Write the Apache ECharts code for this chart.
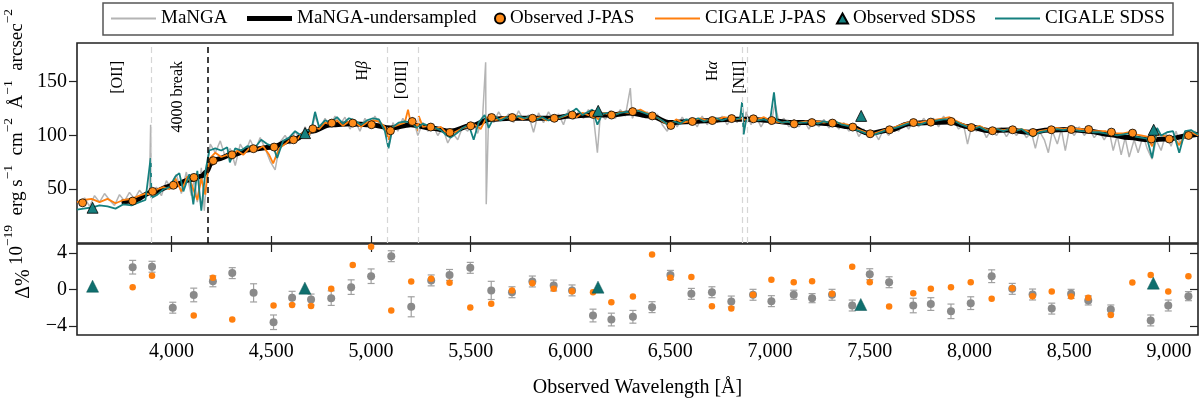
<!DOCTYPE html>
<html>
<head>
<meta charset="utf-8">
<script src="https://cdn.jsdelivr.net/npm/echarts@6.0.0/dist/echarts.min.js"></script>
<style>
html, body { margin: 0; padding: 0; background: #fff; }
#chart { width: 1200px; height: 401px; }
</style>
</head>
<body>
<div id="chart"></div>
<script>
// spectre MaNGA (gris), [longueur d'onde, flux]
var mangaSpec = [
  [3540,36],[3565,42],[3590,34],[3615,44],[3640,38],[3665,46],[3690,40],[3715,35],[3740,45],[3765,39],
  [3790,47],[3815,41],[3840,49],[3865,43],[3890,48],[3896,110],[3900,46],[3925,52],[3950,44],[3975,58],
  [4000,50],[4025,64],[4050,46],[4075,66],[4100,44],[4115,60],[4130,38],[4150,70],[4165,30],[4180,72],
  [4195,92],[4220,84],[4245,95],[4270,80],[4295,88],[4320,72],[4345,92],[4370,84],[4395,96],[4420,86],
  [4445,98],[4470,88],[4495,76],[4520,68],[4545,94],[4570,100],[4595,92],[4620,104],[4645,96],[4670,108],
  [4695,100],[4720,118],[4745,106],[4770,116],[4795,108],[4820,118],[4845,110],[4870,117],[4895,106],[4920,114],
  [4945,104],[4970,116],[4995,108],[5020,118],[5045,110],[5070,106],[5090,90],[5110,112],[5135,104],[5160,116],
  [5185,108],[5210,117],[5235,100],[5260,112],[5285,104],[5310,110],[5335,100],[5360,107],[5385,93],[5410,102],
  [5435,96],[5460,108],[5485,104],[5510,112],[5535,102],[5560,118],[5575,168],[5578,36],[5590,120],[5615,112],
  [5640,122],[5665,114],[5690,120],[5715,112],[5740,123],[5765,114],[5790,119],[5815,103],[5840,121],[5865,112],
  [5890,122],[5915,114],[5940,120],[5965,110],[5990,124],[6015,115],[6040,122],[6065,116],[6090,124],[6115,118],
  [6135,84],[6150,120],[6175,115],[6200,123],[6225,116],[6250,124],[6275,118],[6300,144],[6310,116],[6335,124],
  [6360,117],[6385,122],[6410,115],[6435,120],[6460,110],[6485,104],[6510,114],[6535,108],[6560,117],[6585,111],
  [6610,116],[6635,108],[6660,118],[6685,110],[6710,117],[6735,112],[6760,118],[6785,110],[6810,117],[6835,112],
  [6855,120],[6862,125],[6868,102],[6880,122],[6905,110],[6930,118],[6955,108],[6980,116],[7005,110],[7025,130],
  [7045,112],[7070,116],[7095,108],[7120,115],[7145,108],[7170,114],[7195,106],[7220,114],[7245,108],[7270,115],
  [7295,107],[7320,113],[7345,106],[7370,112],[7395,104],[7420,110],[7445,99],[7470,106],[7495,98],[7520,104],
  [7545,96],[7570,106],[7595,100],[7620,108],[7645,104],[7670,112],[7695,106],[7720,114],[7745,108],[7770,116],
  [7795,110],[7820,116],[7845,108],[7870,118],[7895,110],[7920,114],[7945,106],[7970,110],[7990,92],[8010,108],
  [8035,104],[8060,108],[8085,98],[8110,106],[8135,100],[8160,107],[8185,99],[8210,106],[8235,100],[8260,106],
  [8285,98],[8310,103],[8330,88],[8350,104],[8375,96],[8395,84],[8415,104],[8440,92],[8460,106],[8480,86],
  [8500,106],[8525,100],[8550,108],[8575,100],[8600,106],[8625,98],[8650,104],[8675,96],[8700,104],[8720,86],
  [8740,100],[8760,82],[8780,98],[8800,80],[8825,96],[8845,84],[8870,100],[8890,88],[8915,78],[8935,96],
  [8960,86],[8985,102],[9010,90],[9035,104],[9055,92],[9080,104],[9105,98],[9130,104],[9145,100]
];
// MaNGA sous-echantillonne (courbe noire lissee)
var mangaUnder = [
  [3750,38],[3806,39],[3900,47],[4000,53],[4100,59],[4150,62],[4175,66],[4200,74],[4230,78],[4300,82],
  [4400,87],[4500,89],[4600,95],[4700,104],[4800,110],[4900,111],[5000,110],[5100,107],[5200,110],[5300,107],
  [5400,104],[5500,109],[5600,115],[5700,116],[5800,116],[5900,116],[6000,118],[6100,119],[6200,119],[6300,121],
  [6400,118],[6500,112],[6600,113],[6700,114],[6800,115],[6900,115],[7000,114],[7100,112],[7200,112],[7300,111],
  [7400,108],[7500,102],[7600,105],[7700,111],[7800,112],[7900,112.5],[8000,108],[8100,104.5],[8200,105],[8300,103],
  [8400,105],[8500,105.5],[8600,104],[8700,101],[8800,98],[8900,96],[9000,97],[9100,100],[9145,101]
];
// modele CIGALE ajuste sur J-PAS
var cigaleJpas = [
  [3527,38],[3560,40],[3600,41],[3640,38],[3680,41],[3720,37],[3760,40],[3800,41],[3840,44],[3870,46],
  [3900,45],[3930,50],[3960,52],[3990,50],[4020,60],[4050,48],[4080,62],[4100,55],[4130,40],[4150,60],
  [4170,45],[4190,78],[4220,84],[4250,80],[4280,82],[4300,78],[4330,86],[4360,82],[4390,88],[4420,86],
  [4460,90],[4490,82],[4510,74],[4540,88],[4570,92],[4600,97],[4630,96],[4660,103],[4690,101],[4710,108],
  [4740,106],[4770,112],[4800,110],[4830,114],[4860,109],[4890,113],[4920,112],[4950,108],[4980,112],[5010,114],
  [5040,113],[5070,108],[5090,96],[5110,108],[5140,110],[5170,112],[5186,124],[5200,111],[5230,110],[5236,104],
  [5240,118],[5260,108],[5290,109],[5320,106],[5350,108],[5380,102],[5400,101],[5430,104],[5460,107],[5490,108],
  [5520,110],[5550,106],[5580,117],[5610,114],[5640,115],[5670,117],[5700,116],[5730,118],[5760,115],[5790,117],
  [5820,116],[5850,117],[5880,114],[5910,117],[5940,116],[5970,118],[6000,120],[6030,117],[6060,121],[6090,119],
  [6120,118],[6140,115],[6170,121],[6200,119],[6230,120],[6260,122],[6290,121],[6320,122],[6350,124],[6380,121],
  [6410,119],[6440,116],[6470,112],[6500,110],[6530,115],[6560,112],[6590,113],[6620,114],[6650,116],[6680,114],
  [6710,115],[6740,115],[6770,117],[6800,116],[6830,115],[6860,116],[6880,114],[6910,116],[6940,115],[6970,117],
  [7000,114],[7030,113],[7060,112],[7090,113],[7120,111],[7150,112],[7180,113],[7210,112],[7240,113],[7270,112],
  [7300,113],[7330,112],[7360,111],[7390,110],[7420,107],[7450,105],[7480,103],[7510,101],[7540,103],[7570,105],
  [7600,106],[7630,108],[7660,110],[7690,112],[7720,113],[7750,112],[7780,113],[7810,114],[7840,115],[7870,116],
  [7900,117],[7930,114],[7960,111],[7990,109],[8020,107],[8050,109],[8080,106],[8110,105],[8140,106],[8170,105],
  [8200,106],[8230,105],[8260,106],[8290,104],[8320,102],[8350,104],[8380,105],[8410,106],[8440,107],[8470,106],
  [8500,107],[8530,106],[8560,106],[8590,105],[8620,104],[8650,104],[8680,104],[8710,102],[8740,102],[8770,102],
  [8800,103],[8830,101],[8860,100],[8890,99],[8915,90],[8940,101],[8970,100],[9000,98],[9030,97],[9051,91],
  [9080,100],[9110,103],[9145,100]
];
// modele CIGALE ajuste sur SDSS
var cigaleSdss = [
  [3527,31],[3560,32],[3600,33],[3640,35],[3680,34],[3720,32],[3760,36],[3800,35],[3840,38],[3870,40],
  [3896,79],[3900,42],[3930,45],[3960,50],[3990,52],[4020,62],[4040,65],[4060,48],[4090,64],[4110,36],
  [4130,67],[4150,30],[4170,66],[4190,86],[4220,88],[4250,86],[4280,89],[4293,75],[4320,88],[4350,86],
  [4380,90],[4420,89],[4450,96],[4480,92],[4510,90],[4530,79],[4560,95],[4590,98],[4620,104],[4650,100],
  [4680,105],[4700,104],[4720,122],[4740,108],[4770,114],[4800,112],[4830,117],[4860,111],[4890,116],[4920,114],
  [4950,110],[4980,114],[5010,116],[5040,115],[5070,104],[5088,88],[5110,108],[5140,112],[5170,113],[5200,112],
  [5230,107],[5260,111],[5290,109],[5320,107],[5350,105],[5380,100],[5400,98],[5430,102],[5460,107],[5490,110],
  [5515,96],[5540,112],[5570,119],[5590,107],[5620,118],[5650,114],[5680,117],[5710,115],[5740,118],[5770,116],
  [5800,118],[5830,115],[5860,117],[5890,114],[5920,116],[5950,117],[6000,121],[6030,125],[6060,119],[6090,122],
  [6110,124],[6135,110],[6160,120],[6190,121],[6220,119],[6250,121],[6280,122],[6310,121],[6340,123],[6370,121],
  [6400,119],[6430,117],[6460,114],[6490,110],[6520,113],[6550,111],[6580,115],[6610,114],[6640,116],[6670,113],
  [6700,115],[6730,116],[6760,114],[6790,116],[6820,115],[6850,116],[6860,131],[6868,101],[6880,114],[6910,116],
  [6940,114],[6970,115],[7000,113],[7020,140],[7035,114],[7060,112],[7090,113],[7120,110],[7150,112],[7180,112],
  [7210,113],[7240,111],[7270,113],[7300,112],[7330,113],[7360,110],[7390,109],[7420,106],[7450,104],[7480,102],
  [7510,100],[7540,102],[7570,104],[7600,106],[7630,107],[7660,109],[7690,111],[7720,112],[7750,110],[7780,112],
  [7810,113],[7840,114],[7870,115],[7900,115],[7930,113],[7960,110],[7990,108],[8020,106],[8050,108],[8080,105],
  [8110,104],[8140,106],[8170,104],[8200,106],[8230,104],[8260,106],[8290,102],[8318,99],[8350,103],[8380,104],
  [8410,105],[8440,106],[8470,105],[8500,106],[8530,105],[8560,104],[8590,104],[8620,103],[8650,103],[8680,102],
  [8710,101],[8740,100],[8770,101],[8800,102],[8830,99],[8860,98],[8890,97],[8915,79],[8940,107],[8960,100],
  [8990,103],[9020,104],[9051,84],[9080,104],[9110,105],[9145,101]
];
// photometrie observee
var obsJpas = [
  [3555,37.4],[3806,39],[3906,48],[4010,53.7],[4113,61],[4210,76.6],[4304,82],[4411,87.7],[4515,89.2],[4612,96],
  [4709,106.2],[4804,111.5],[4909,111.5],[5003,110],[5098,104.4],[5207,113],[5300,107.8],[5396,102.8],[5500,109],[5605,116.7],
  [5708,116.7],[5810,116],[5919,116],[6009,119],[6114,119.6],[6206,119],[6312,122.2],[6410,118.2],[6503,109.3],[6611,113],
  [6711,113.9],[6808,115.7],[6917,115.5],[7009,113.9],[7121,110.8],[7210,112],[7313,111.5],[7415,107.8],[7502,101.6],[7599,105.3],
  [7719,112],[7806,112.4],[7908,113],[8009,107.4],[8115,104.4],[8216,105.3],[8318,102.8],[8410,105.3],[8510,105.6],[8597,105.6],
  [8711,103.1],[8817,102.2],[8911,96.7],[9001,96.7],[9098,100]
];
var obsSdss = [[3605,32.8],[4670,102.2],[6139,122.9],[7457,118.2],[8923,105.3]];

// residus en % : [longueur d'onde, valeur, erreur]
var resManga = [
  [3806,2.45,0.75],[3903,2.5,0.6],[4007,-2.0,0.6],[4112,-0.6,0.75],[4208,0.9,0.6],[4305,1.8,0.6],[4412,-0.37,1.0],
  [4512,-3.6,0.8],[4605,-0.9,0.7],[4700,-1.1,0.6],[4801,-0.95,0.8],[4901,0.26,0.8],[5001,1.46,0.8],[5102,3.66,0.6],
  [5202,-1.9,1.1],[5302,1.0,0.6],[5394,1.6,0.6],[5498,2.38,0.6],[5603,-0.1,1.0],[5707,-0.3,0.6],[5809,0.88,0.6],
  [5916,0.44,0.6],[6008,-0.1,0.6],[6113,-2.86,0.7],[6205,-3.3,0.7],[6313,-3.0,0.7],[6409,-1.94,0.6],[6501,1.6,0.5],
  [6606,-0.48,0.6],[6709,-0.3,0.6],[6806,-1.32,0.6],[6915,-0.58,0.6],[7007,-1.28,0.6],[7119,-0.58,0.5],[7211,-0.95,0.5],
  [7311,-0.58,0.6],[7412,-1.76,0.6],[7500,1.68,0.6],[7597,0.8,0.6],[7718,-1.76,0.8],[7806,-1.6,0.7],[7907,-2.4,0.8],
  [8006,-1.5,0.7],[8111,1.46,0.7],[8214,0.07,0.6],[8316,-0.55,0.6],[8412,-2.1,0.6],[8509,-0.48,0.5],[8595,-1.2,0.5],
  [8708,-2.2,0.5],[8908,-3.4,0.6],[8996,-1.76,0.6],[9097,-0.73,0.5]
];
var resJpas = [
  [3806,0.25],[3903,1.5],[4112,-2.86],[4208,1.3],[4305,-3.3],[4412,-5.3],[4512,-1.76],[4605,-1.7],[4700,-1.8],[4801,0.07],
  [4909,2.7],[5001,4.7],[5102,-2.3],[5202,0.88],[5302,1.17],[5394,0.73],[5498,-1.98],[5603,-1.57],[5707,-0.1],[5809,0.7],
  [5916,0.07],[6008,-0.2],[6113,-0.3],[6205,-1.4],[6313,-0.77],[6409,3.85],[6501,1.28],[6606,1.36],[6709,-1.83],[6806,-2.1],
  [6915,-0.58],[7007,1.06],[7119,0.8],[7211,0.92],[7311,-0.48],[7412,2.5],[7500,0.8],[7597,-1.87],[7718,-0.4],[7806,0.07],
  [7907,0.26],[8006,0.8],[8111,-1.03],[8214,0.15],[8316,-0.73],[8412,-0.22],[8509,-0.77],[8595,-0.9],[8708,-2.8],[8816,0.77],
  [8908,1.6],[8996,-0.22],[9097,1.46]
];
var resSdss = [[3605,0.36],[4669,0.15],[6138,0.26],[7455,-1.65],[8921,0.7]];

// raies et etiquettes
var lineWave = [3897, 5083, 5236, 6863, 6884];
var breakWave = 4183;
var lineLabels = [[3731,'[OII]'],[4032,'4000 break'],[4959,'H{i|β}'],[5153,'[OIII]'],[6715,'H{i|α}'],[6851,'[NII]']];
var xTicks = [4000,4500,5000,5500,6000,6500,7000,7500,8000,8500,9000];
var fluxTicks = [50,100,150];
var resTicks = [-4,0,4];

var FONT = '"Liberation Serif", "DejaVu Serif", serif';
var ORANGE = '#ff7f0e';
var TEAL = '#15807f';
var LINE_ICON = 'path://M0,0H45V2H0Z';
var THICK_ICON = 'path://M0,0H45V5H0Z';

var chart = echarts.init(document.getElementById('chart'));

function fmtNum(v) {
  if (v < 0) return '\u2212' + Math.abs(v);
  return String(v).replace(/\B(?=(\d{3})+(?!\d))/g, ',');
}

// barres d'erreur
function renderErr(params, api) {
  var x = api.value(0);
  var lo = api.coord([x, api.value(1)]);
  var hi = api.coord([x, api.value(2)]);
  var w = 3.5;
  var st = { stroke: '#a0a0a0', lineWidth: 1.2 };
  return {
    type: 'group',
    children: [
      { type: 'line', shape: { x1: lo[0], y1: lo[1], x2: hi[0], y2: hi[1] }, style: st },
      { type: 'line', shape: { x1: lo[0] - w, y1: lo[1], x2: lo[0] + w, y2: lo[1] }, style: st },
      { type: 'line', shape: { x1: hi[0] - w, y1: hi[1], x2: hi[0] + w, y2: hi[1] }, style: st }
    ]
  };
}

function legendItem(left, name, w, h, icon) {
  return {
    left: left, top: 9, padding: 0, itemGap: 0, itemWidth: w, itemHeight: h,
    selectedMode: false, data: [{ name: name, icon: icon }],
    textStyle: { fontFamily: FONT, fontSize: 19, color: '#000' }
  };
}

var tickStyle = { color: '#222', width: 1.2 };

var option = {
  animation: false,
  backgroundColor: '#fff',
  textStyle: { fontFamily: FONT },
  legend: [
    legendItem(111, 'MaNGA', 45, 14, LINE_ICON),
    legendItem(247, 'MaNGA-undersampled', 45, 14, THICK_ICON),
    legendItem(494, 'Observed J-PAS', 10, 10, 'circle'),
    legendItem(655, 'CIGALE J-PAS', 45, 14, LINE_ICON),
    legendItem(836, 'Observed SDSS', 11, 10, 'triangle'),
    legendItem(995, 'CIGALE SDSS', 45, 14, LINE_ICON)
  ],
  grid: [
    { left: 77, top: 43, width: 1121, height: 200, show: true, borderColor: '#222', borderWidth: 1.6, backgroundColor: 'transparent' },
    { left: 77, top: 244, width: 1121, height: 91, show: true, borderColor: '#222', borderWidth: 1.6, backgroundColor: 'transparent' }
  ],
  xAxis: [
    { gridIndex: 0, type: 'value', min: 3527, max: 9145,
      axisLine: { show: false, onZero: false }, splitLine: { show: false },
      axisTick: { inside: true, length: 7, lineStyle: tickStyle, customValues: xTicks },
      axisLabel: { show: false } },
    { gridIndex: 1, type: 'value', min: 3527, max: 9145, position: 'bottom',
      axisLine: { show: false, onZero: false }, splitLine: { show: false },
      axisTick: { show: false },
      axisLabel: { customValues: xTicks, formatter: fmtNum, fontFamily: FONT, fontSize: 20, color: '#000', margin: 7 },
      name: 'Observed Wavelength [Å]', nameLocation: 'middle', nameGap: 43,
      nameTextStyle: { fontFamily: FONT, fontSize: 20, color: '#000' } },
    { gridIndex: 1, type: 'value', min: 3527, max: 9145, position: 'top',
      axisLine: { show: false, onZero: false }, splitLine: { show: false },
      axisTick: { inside: true, length: 8, lineStyle: tickStyle, customValues: xTicks },
      axisLabel: { show: false } }
  ],
  yAxis: [
    { gridIndex: 0, type: 'value', min: 0, max: 186, position: 'left',
      axisLine: { show: false, onZero: false }, splitLine: { show: false },
      axisTick: { inside: false, length: 8, lineStyle: tickStyle, customValues: fluxTicks },
      axisLabel: { customValues: fluxTicks, fontFamily: FONT, fontSize: 20, color: '#000', margin: 10 } },
    { gridIndex: 0, type: 'value', min: 0, max: 186, position: 'right',
      axisLine: { show: false, onZero: false }, splitLine: { show: false },
      axisTick: { inside: true, length: 8, lineStyle: tickStyle, customValues: fluxTicks },
      axisLabel: { show: false } },
    { gridIndex: 1, type: 'value', min: -5, max: 5, position: 'left',
      axisLine: { show: false, onZero: false }, splitLine: { show: false },
      axisTick: { inside: false, length: 8, lineStyle: tickStyle, customValues: resTicks },
      axisLabel: { customValues: resTicks, formatter: fmtNum, fontFamily: FONT, fontSize: 20, color: '#000', margin: 10 } },
    { gridIndex: 1, type: 'value', min: -5, max: 5, position: 'right',
      axisLine: { show: false, onZero: false }, splitLine: { show: false },
      axisTick: { inside: true, length: 8, lineStyle: tickStyle, customValues: resTicks },
      axisLabel: { show: false } }
  ],
  series: [
    { name: 'MaNGA', type: 'line', xAxisIndex: 0, yAxisIndex: 0, data: mangaSpec,
      symbol: 'none', z: 1, lineStyle: { color: '#b4b4b4', width: 1.5 }, itemStyle: { color: '#b4b4b4' },
      markLine: {
        silent: true, symbol: 'none', label: { show: false },
        lineStyle: { type: [6, 4], color: '#d6d6d6', width: 1.2 },
        data: lineWave.map(function (w) { return { xAxis: w }; })
          .concat([{ xAxis: breakWave, lineStyle: { color: '#000', width: 1.5, type: [6, 4] } }])
      } },
    { name: 'MaNGA-undersampled', type: 'line', xAxisIndex: 0, yAxisIndex: 0, data: mangaUnder,
      symbol: 'none', smooth: 0.4, smoothMonotone: 'x', z: 2,
      lineStyle: { color: '#000', width: 5 }, itemStyle: { color: '#000' } },
    { name: 'CIGALE J-PAS', type: 'line', xAxisIndex: 0, yAxisIndex: 0, data: cigaleJpas,
      symbol: 'none', z: 3, lineStyle: { color: ORANGE, width: 1.8 }, itemStyle: { color: ORANGE } },
    { name: 'CIGALE SDSS', type: 'line', xAxisIndex: 0, yAxisIndex: 0, data: cigaleSdss,
      symbol: 'none', z: 4, lineStyle: { color: TEAL, width: 1.8 }, itemStyle: { color: TEAL } },
    { name: 'Observed J-PAS', type: 'scatter', xAxisIndex: 0, yAxisIndex: 0, data: obsJpas,
      symbol: 'circle', symbolSize: 8, z: 5,
      itemStyle: { color: '#ff8c1a', borderColor: '#000', borderWidth: 0.8, opacity: 1 } },
    { name: 'Observed SDSS', type: 'scatter', xAxisIndex: 0, yAxisIndex: 0, data: obsSdss,
      symbol: 'triangle', symbolSize: 11, z: 6,
      itemStyle: { color: TEAL, borderColor: '#000', borderWidth: 0.8, opacity: 1 } },
    // panneau des residus
    { name: 'err', type: 'custom', xAxisIndex: 1, yAxisIndex: 2, z: 2,
      data: resManga.map(function (r) { return [r[0], r[1] - r[2], r[1] + r[2]]; }),
      renderItem: renderErr },
    { name: 'res MaNGA', type: 'scatter', xAxisIndex: 1, yAxisIndex: 2, z: 3,
      data: resManga.map(function (r) { return [r[0], r[1]]; }),
      symbolSize: 8, itemStyle: { color: '#8a8a8a', opacity: 1 } },
    { name: 'res J-PAS', type: 'scatter', xAxisIndex: 1, yAxisIndex: 2, z: 4, data: resJpas,
      symbolSize: 6.5, itemStyle: { color: ORANGE, opacity: 1 } },
    { name: 'res SDSS', type: 'scatter', xAxisIndex: 1, yAxisIndex: 2, z: 5, data: resSdss,
      symbol: 'triangle', symbolSize: 12, itemStyle: { color: '#0f6f6e', borderColor: '#0a5554', borderWidth: 0.5, opacity: 1 } }
  ]
};

chart.setOption(option);

// textes annexes (cadre de legende, titres d'axes, noms des raies)
var graphics = [
  { type: 'rect', z: 0, shape: { x: 103, y: 3, width: 1070, height: 32 },
    style: { fill: '#fff', stroke: '#555', lineWidth: 1.5 } },
  { type: 'text', x: 14, y: 137, rotation: Math.PI / 2,
    style: {
      text: '{n|10}{s|\u221219}{n|  erg s}{s|\u22121}{n|  cm}{s|\u22122}{n|  Å}{s|\u22121}{n|  arcsec}{s|\u22122}',
      align: 'center', verticalAlign: 'middle', fill: '#000',
      rich: {
        n: { fontFamily: FONT, fontSize: 19, lineHeight: 26, verticalAlign: 'bottom' },
        s: { fontFamily: FONT, fontSize: 13.5, lineHeight: 13.5, verticalAlign: 'top' }
      }
    } },
  { type: 'text', x: 24, y: 284, rotation: Math.PI / 2,
    style: { text: 'Δ%', font: '20px ' + FONT, align: 'center', verticalAlign: 'middle', fill: '#000' } }
];
lineLabels.forEach(function (l) {
  var px = chart.convertToPixel({ xAxisIndex: 0 }, l[0]);
  graphics.push({ type: 'text', x: px, y: 61, rotation: Math.PI / 2, z: 10,
    style: { text: l[1], font: '16px ' + FONT, align: 'right', verticalAlign: 'middle', fill: '#000',
      rich: { i: { fontFamily: FONT, fontSize: 16, fontStyle: 'italic' } } } });
});
chart.setOption({ graphic: graphics });
</script>
</body>
</html>
